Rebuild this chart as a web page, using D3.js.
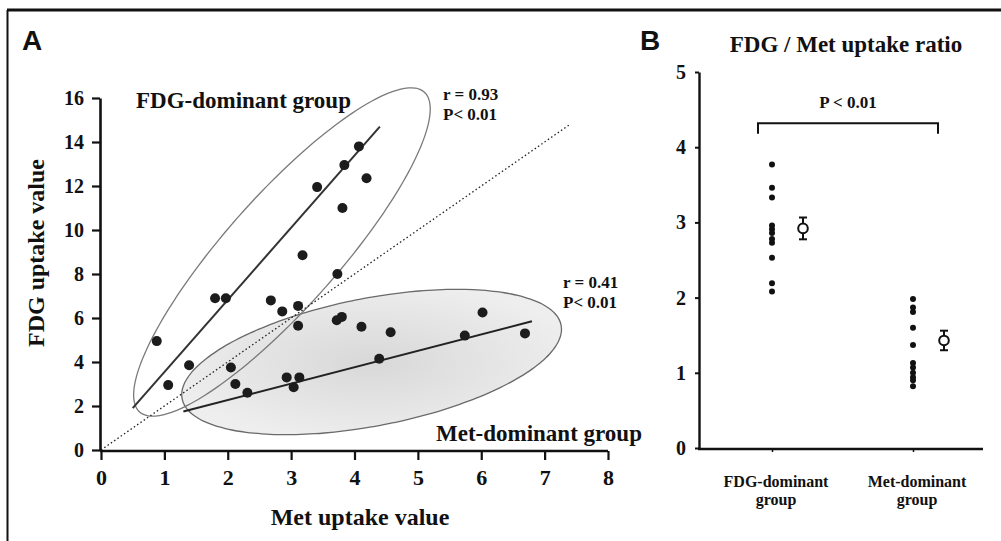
<!DOCTYPE html>
<html>
<head>
<meta charset="utf-8">
<script src="https://cdn.jsdelivr.net/npm/d3@7"></script>
<style>
  body { margin: 0; background: #fff; }
  svg text { font-family: "Liberation Serif", "Times New Roman", serif; font-weight: bold; fill: #111; }
  svg text.panel-label { font-family: "Liberation Sans", Arial, sans-serif; }
</style>
</head>
<body>
<div id="chart"></div>
<script>
// ---- panel A data (Met uptake, FDG uptake) ----
const fdgGroupMet = [0.88, 1.06, 1.39, 1.80, 1.97, 2.68, 2.86, 3.11, 3.18, 3.73, 3.41, 3.81, 3.84, 4.07, 4.19];
const fdgGroupFdg = [4.95, 2.95, 3.85, 6.90, 6.90, 6.80, 6.30, 6.55, 8.85, 8.00, 11.95, 11.00, 12.95, 13.80, 12.35];
const metGroupMet = [2.05, 2.12, 2.31, 2.93, 3.13, 3.04, 3.11, 3.72, 3.80, 4.11, 4.57, 4.39, 5.74, 6.02, 6.69];
const metGroupFdg = [3.75, 3.00, 2.60, 3.30, 3.30, 2.85, 5.65, 5.90, 6.05, 5.60, 5.35, 4.15, 5.20, 6.25, 5.30];

// fitted lines and reference line (x, y end points)
const fdgFit = [[0.5, 1.9], [4.4, 14.7]];
const metFit = [[1.3, 1.75], [6.8, 5.85]];
const refLine = [[0, 0], [7.4, 14.8]];

// group ellipses: centre and two conjugate half-axes, in data units
const fdgEllipse = { c: [2.855, 9.0], a: [2.245, 7.27], b: [0.66, -1.69] };
const metEllipse = { c: [4.27, 4.0], a: [2.99, 1.67], b: [0.19, -2.85] };

const xTicksA = [0, 1, 2, 3, 4, 5, 6, 7, 8];
const yTicksA = [0, 2, 4, 6, 8, 10, 12, 14, 16];

// ---- panel B data (FDG / Met ratio) ----
const groupsB = ["FDG-dominant group", "Met-dominant group"];
const fdgRatio = [3.77, 3.46, 3.33, 2.96, 2.91, 2.86, 2.78, 2.73, 2.53, 2.19, 2.08];
const metRatio = [1.98, 1.87, 1.81, 1.60, 1.37, 1.13, 1.07, 1.00, 0.94, 0.90, 0.82];
const ratioMean = [2.92, 1.43];
const ratioSem = [0.145, 0.13];
const yTicksB = [0, 1, 2, 3, 4, 5];

const W = 1001, H = 541;
const serif = "'Liberation Serif', 'Times New Roman', serif";
const svg = d3.select("#chart").append("svg")
  .attr("width", W).attr("height", H);

// frame (top + left edges as in the scan)
svg.append("line").attr("x1", 7).attr("x2", W).attr("y1", 10).attr("y2", 10)
  .attr("stroke", "#111").attr("stroke-width", 3);
svg.append("line").attr("x1", 7.5).attr("x2", 7.5).attr("y1", 10).attr("y2", H)
  .attr("stroke", "#111").attr("stroke-width", 2);

const defs = svg.append("defs");
const grad = defs.append("radialGradient").attr("id", "metFill")
  .attr("cx", "50%").attr("cy", "50%").attr("r", "55%");
grad.append("stop").attr("offset", "0%").attr("stop-color", "#d8d8d8");
grad.append("stop").attr("offset", "100%").attr("stop-color", "#eeeeee");

// ================= Panel A =================
const x = d3.scaleLinear().domain([0, 8]).range([101, 608]);
const y = d3.scaleLinear().domain([0, 16]).range([450, 98]);

svg.append("text").attr("class", "panel-label")
  .attr("x", 22).attr("y", 50).attr("font-size", 28).text("A");

function ellipsePath(e) {
  const pts = d3.range(0, 361, 3).map(deg => {
    const t = deg * Math.PI / 180;
    return [x(e.c[0] + e.a[0] * Math.cos(t) + e.b[0] * Math.sin(t)),
            y(e.c[1] + e.a[1] * Math.cos(t) + e.b[1] * Math.sin(t))];
  });
  return d3.line().curve(d3.curveCardinalClosed)(pts);
}

svg.append("path").attr("d", ellipsePath(metEllipse))
  .attr("fill", "url(#metFill)").attr("stroke", "#6a6a6a").attr("stroke-width", 1.3);
svg.append("path").attr("d", ellipsePath(fdgEllipse))
  .attr("fill", "none").attr("stroke", "#7a7a7a").attr("stroke-width", 1.3);

const line = d3.line().x(d => x(d[0])).y(d => y(d[1]));
svg.append("path").attr("d", line(refLine))
  .attr("stroke", "#222").attr("stroke-width", 1.3).attr("stroke-dasharray", "1.5,2.5").attr("fill", "none");
svg.append("path").attr("d", line(fdgFit))
  .attr("stroke", "#333").attr("stroke-width", 2).attr("fill", "none");
svg.append("path").attr("d", line(metFit))
  .attr("stroke", "#222").attr("stroke-width", 2).attr("fill", "none");

const ptsA = fdgGroupMet.map((m, i) => [m, fdgGroupFdg[i]])
  .concat(metGroupMet.map((m, i) => [m, metGroupFdg[i]]));
svg.append("g").selectAll("circle").data(ptsA).join("circle")
  .attr("cx", d => x(d[0])).attr("cy", d => y(d[1])).attr("r", 5)
  .attr("fill", "#1c1c1c");

// axes
const xAxisA = svg.append("g").attr("transform", "translate(0,451)")
  .call(d3.axisBottom(x).tickValues(xTicksA).tickSize(9).tickPadding(9).tickSizeOuter(0));
const yAxisA = svg.append("g").attr("transform", "translate(100,0)")
  .call(d3.axisLeft(y).tickValues(yTicksA).tickSize(8).tickPadding(8).tickSizeOuter(0));
[xAxisA, yAxisA].forEach(g => {
  g.attr("font-family", serif);
  g.select(".domain").attr("stroke", "#111").attr("stroke-width", 2.6);
  g.selectAll(".tick line").attr("stroke", "#111").attr("stroke-width", 2.2);
});
xAxisA.selectAll(".tick text").attr("font-size", 22).attr("fill", "#111");
yAxisA.selectAll(".tick text").attr("font-size", 20).attr("fill", "#111");
xAxisA.select(".domain").attr("d", "M100,0H" + x(8));

svg.append("text").attr("x", 360).attr("y", 525).attr("text-anchor", "middle")
  .attr("font-size", 24).text("Met uptake value");
svg.append("text").attr("transform", "translate(44,253) rotate(-90)").attr("text-anchor", "middle")
  .attr("font-size", 24).text("FDG uptake value");

// annotations
svg.append("text").attr("x", 136).attr("y", 108).attr("font-size", 23).text("FDG-dominant group");
svg.append("text").attr("x", 436).attr("y", 441).attr("font-size", 23).text("Met-dominant group");
svg.append("text").attr("x", 443).attr("y", 100).attr("font-size", 17).text("r = 0.93");
svg.append("text").attr("x", 443).attr("y", 120).attr("font-size", 17).text("P< 0.01");
svg.append("text").attr("x", 563).attr("y", 288).attr("font-size", 17).text("r = 0.41");
svg.append("text").attr("x", 563).attr("y", 308).attr("font-size", 17).text("P< 0.01");

// ================= Panel B =================
const xb = d3.scalePoint().domain(groupsB).range([772, 913]);
const yb = d3.scaleLinear().domain([0, 5]).range([448, 72]);
const meanOffset = 31;

svg.append("text").attr("class", "panel-label")
  .attr("x", 640).attr("y", 50).attr("font-size", 28).text("B");
svg.append("text").attr("x", 846).attr("y", 52).attr("text-anchor", "middle")
  .attr("font-size", 23).text("FDG / Met uptake ratio");

const yAxisB = svg.append("g").attr("transform", "translate(699,0)").attr("font-family", serif)
  .call(d3.axisLeft(yb).tickValues(yTicksB).tickFormat(d3.format("d"))
    .tickSize(4).tickPadding(9).tickSizeOuter(0));
yAxisB.select(".domain").attr("stroke", "#111").attr("stroke-width", 2.4);
yAxisB.selectAll(".tick line").attr("stroke", "#111").attr("stroke-width", 2);
yAxisB.selectAll(".tick text").attr("font-size", 20).attr("fill", "#111");

const xAxisB = svg.append("g").attr("transform", "translate(0,449)")
  .call(d3.axisBottom(xb).tickSize(3).tickSizeOuter(0).tickFormat(""));
xAxisB.select(".domain").attr("d", "M698,0H983").attr("stroke", "#111").attr("stroke-width", 2.4);
xAxisB.selectAll(".tick line").attr("stroke", "#111").attr("stroke-width", 1.5);

// category labels in two lines
groupsB.forEach(g => {
  const words = g.split(" ");
  svg.append("text").attr("text-anchor", "middle").attr("font-size", 16)
    .attr("x", xb(g) + 4).attr("y", 487).text(words[0]);
  svg.append("text").attr("text-anchor", "middle").attr("font-size", 16)
    .attr("x", xb(g) + 4).attr("y", 505).text(words[1]);
});

const ratioSets = [fdgRatio, metRatio];
ratioSets.forEach((vals, i) => {
  const cx = xb(groupsB[i]);
  svg.append("g").selectAll("circle").data(vals).join("circle")
    .attr("cx", cx).attr("cy", d => yb(d)).attr("r", 3)
    .attr("fill", "#111");
  const mx = cx + meanOffset;
  const lo = ratioMean[i] - ratioSem[i], hi = ratioMean[i] + ratioSem[i];
  svg.append("line").attr("x1", mx).attr("x2", mx).attr("y1", yb(lo)).attr("y2", yb(hi))
    .attr("stroke", "#111").attr("stroke-width", 2);
  [lo, hi].forEach(v => svg.append("line").attr("x1", mx - 4).attr("x2", mx + 4)
    .attr("y1", yb(v)).attr("y2", yb(v)).attr("stroke", "#111").attr("stroke-width", 2));
  svg.append("circle").attr("cx", mx).attr("cy", yb(ratioMean[i])).attr("r", 4.8)
    .attr("fill", "#fff").attr("stroke", "#111").attr("stroke-width", 2);
});

// significance bracket
const bx0 = xb(groupsB[0]) - 14, bx1 = xb(groupsB[1]) + 25;
const by = yb(4.32), byEnd = yb(4.18);
svg.append("path")
  .attr("d", `M${bx0},${byEnd}V${by}H${bx1}V${byEnd}`)
  .attr("fill", "none").attr("stroke", "#111").attr("stroke-width", 2);
svg.append("text").attr("x", (bx0 + bx1) / 2).attr("y", 108).attr("text-anchor", "middle")
  .attr("font-size", 17).text("P < 0.01");
</script>
</body>
</html>
